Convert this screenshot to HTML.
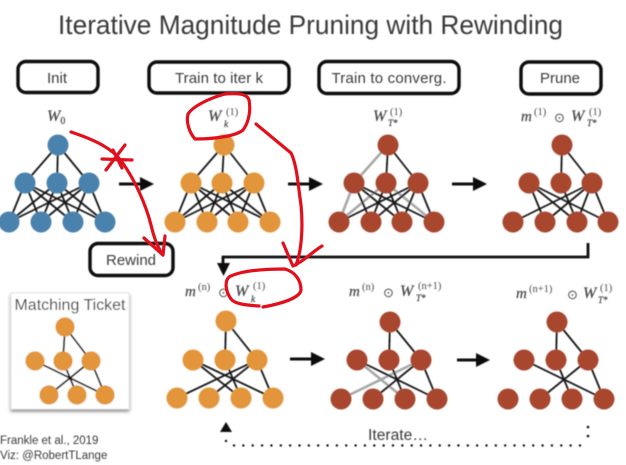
<!DOCTYPE html>
<html><head><meta charset="utf-8"><style>
html,body{margin:0;padding:0;background:#fff;width:626px;height:465px;overflow:hidden}
svg{display:block}
.s{font-family:"Liberation Sans",sans-serif;fill:#3a3a3a}
.m{font-family:"Liberation Serif",serif;font-style:italic;fill:#4a4a4a;stroke:#4a4a4a;stroke-width:.25}
.r{font-family:"Liberation Serif",serif;fill:#4a4a4a}
.b{fill:none;stroke:#0c0c0c;stroke-width:3.4}
.e{fill:none;stroke:#141414;stroke-width:1.8}
.g{fill:none;stroke:#a8a8a8;stroke-width:2.6}
.red{fill:none;stroke:#e20f1c;stroke-width:3.2;stroke-linecap:round;stroke-linejoin:round}
.blue circle{fill:#4a82ad}.or circle{fill:#e3953a}.br circle{fill:#a9472f}
</style></head><body>
<svg width="626" height="465" viewBox="0 0 626 465" xmlns="http://www.w3.org/2000/svg">
<defs><filter id="bl" x="-5%" y="-5%" width="110%" height="110%"><feGaussianBlur stdDeviation="0.45"/></filter>
<filter id="sh" x="-10%" y="-10%" width="120%" height="120%"><feDropShadow dx="0" dy="2" stdDeviation="1.5" flood-color="#666" flood-opacity=".8"/></filter></defs>
<g filter="url(#bl)">
<text class="s" x="58" y="34" font-size="27" textLength="505" lengthAdjust="spacingAndGlyphs">Iterative Magnitude Pruning with Rewinding</text>

<rect class="b" x="18" y="61.5" width="80" height="31" rx="8"/>
<rect class="b" x="149" y="62" width="140" height="31" rx="8"/>
<rect class="b" x="319" y="61.5" width="140" height="32" rx="8"/>
<rect class="b" x="521" y="62" width="80" height="32" rx="8"/>
<rect class="b" x="90" y="243.5" width="83" height="32" rx="8"/>
<text class="s" x="57" y="83" font-size="15" text-anchor="middle">Init</text>
<text class="s" x="219" y="83" font-size="15" text-anchor="middle" textLength="88">Train to iter k</text>
<text class="s" x="389" y="83" font-size="15" text-anchor="middle" textLength="115">Train to converg.</text>
<text class="s" x="560" y="83" font-size="15" text-anchor="middle">Prune</text>
<text class="s" x="131" y="265" font-size="15" text-anchor="middle">Rewind</text>

<!-- math labels -->
<text class="m" x="47" y="121" font-size="16">W<tspan class="r" font-style="normal" font-size="10" dy="3">0</tspan></text>
<text class="m" x="208" y="121" font-size="16">W</text><text class="r" x="226" y="115" font-size="10.5">(1)</text><text class="m" x="224" y="127" font-size="9.5">k</text>
<text class="m" x="373" y="121" font-size="16">W</text><text class="r" x="390" y="115" font-size="10.5">(1)</text><text class="m" x="388" y="126" font-size="9">T*</text>
<text class="m" x="521" y="121" font-size="15">m</text><text class="r" x="534" y="115" font-size="10.5">(1)</text><text class="r" x="554" y="122" font-size="13">⊙</text><text class="m" x="571" y="121" font-size="16">W</text><text class="r" x="589" y="115" font-size="10.5">(1)</text><text class="m" x="587" y="126" font-size="9">T*</text>
<text class="m" x="185" y="296" font-size="15">m</text><text class="r" x="198" y="290" font-size="10.5">(n)</text><text class="r" x="218" y="297" font-size="13">⊙</text><text class="m" x="235" y="296" font-size="16">W</text><text class="r" x="253" y="289" font-size="10.5">(1)</text><text class="m" x="251" y="302" font-size="9.5">k</text>
<text class="m" x="349" y="296" font-size="15">m</text><text class="r" x="362" y="290" font-size="10.5">(n)</text><text class="r" x="383" y="297" font-size="13">⊙</text><text class="m" x="400" y="296" font-size="16">W</text><text class="r" x="418" y="289" font-size="10.5">(n+1)</text><text class="m" x="416" y="301" font-size="9">T*</text>
<text class="m" x="516" y="298" font-size="15">m</text><text class="r" x="529" y="292" font-size="10.5">(n+1)</text><text class="r" x="567" y="299" font-size="13">⊙</text><text class="m" x="583" y="298" font-size="16">W</text><text class="r" x="600" y="291" font-size="10.5">(1)</text><text class="m" x="598" y="303" font-size="9">T*</text>

<!-- net 1 blue -->
<path class="e" d="M58 145L25 183M58 145L57 183M58 145L89 183M25 183L9 222M25 183L41 222M25 183L73 222M25 183L105 222M57 183L9 222M57 183L41 222M57 183L73 222M57 183L105 222M89 183L9 222M89 183L41 222M89 183L73 222M89 183L105 222"/>
<g class="blue"><circle cx="58" cy="145" r="10.5"/><circle cx="25" cy="183" r="10.5"/><circle cx="57" cy="183" r="10.5"/><circle cx="89" cy="183" r="10.5"/><circle cx="9" cy="222" r="10.5"/><circle cx="41" cy="222" r="10.5"/><circle cx="73" cy="222" r="10.5"/><circle cx="105" cy="222" r="10.5"/></g>

<!-- net 2 orange -->
<path class="e" d="M224 145L191 183M224 145L222 183M224 145L254 183M191 183L175 222M191 183L207 222M191 183L238 222M191 183L270 222M222 183L175 222M222 183L207 222M222 183L238 222M222 183L270 222M254 183L175 222M254 183L207 222M254 183L238 222M254 183L270 222"/>
<g class="or"><circle cx="224" cy="145" r="10.5"/><circle cx="191" cy="183" r="10.5"/><circle cx="222" cy="183" r="10.5"/><circle cx="254" cy="183" r="10.5"/><circle cx="175" cy="222" r="10.5"/><circle cx="207" cy="222" r="10.5"/><circle cx="238" cy="222" r="10.5"/><circle cx="270" cy="222" r="10.5"/></g>

<!-- net 3 brown -->
<path class="g" d="M388 145L354 183M354 183L339 222M339 222L386 183M386 183L434 222"/>
<path class="e" d="M388 145L386 183M388 145L418 183M354 183L371 222M354 183L402 222M354 183L434 222M386 183L371 222M386 183L402 222M418 183L339 222M418 183L371 222M418 183L402 222M418 183L434 222"/>
<g class="br"><circle cx="388" cy="145" r="10.5"/><circle cx="354" cy="183" r="10.5"/><circle cx="386" cy="183" r="10.5"/><circle cx="418" cy="183" r="10.5"/><circle cx="339" cy="222" r="10.5"/><circle cx="371" cy="222" r="10.5"/><circle cx="402" cy="222" r="10.5"/><circle cx="434" cy="222" r="10.5"/></g>

<!-- net 4 brown -->
<path class="e" d="M562 145L561 183M562 145L592 183M529 183L545 222M529 183L577 222M529 183L608 222M561 183L577 222M592 183L513 222M592 183L545 222M592 183L577 222M592 183L608 222"/>
<g class="br"><circle cx="562" cy="145" r="10.5"/><circle cx="529" cy="183" r="10.5"/><circle cx="561" cy="183" r="10.5"/><circle cx="592" cy="183" r="10.5"/><circle cx="513" cy="222" r="10.5"/><circle cx="545" cy="222" r="10.5"/><circle cx="577" cy="222" r="10.5"/><circle cx="608" cy="222" r="10.5"/></g>

<!-- lower orange -->
<path class="e" d="M226 321L225 360M226 321L257 360M193 360L241 398M193 360L273 398M225 360L241 398M257 360L177 398M257 360L209 398M257 360L273 398"/>
<g class="or"><circle cx="226" cy="321" r="10.5"/><circle cx="193" cy="360" r="10.5"/><circle cx="225" cy="360" r="10.5"/><circle cx="257" cy="360" r="10.5"/><circle cx="177" cy="398" r="10.5"/><circle cx="209" cy="398" r="10.5"/><circle cx="241" cy="398" r="10.5"/><circle cx="273" cy="398" r="10.5"/></g>

<!-- lower brown 2 -->
<path class="g" d="M357 360L405 399M421 360L341 399"/>
<path class="e" d="M390 322L389 360M390 322L421 360M357 360L437 399M389 360L405 399M421 360L373 399M421 360L437 399"/>
<g class="br"><circle cx="390" cy="322" r="10.5"/><circle cx="357" cy="360" r="10.5"/><circle cx="389" cy="360" r="10.5"/><circle cx="421" cy="360" r="10.5"/><circle cx="341" cy="399" r="10.5"/><circle cx="373" cy="399" r="10.5"/><circle cx="405" cy="399" r="10.5"/><circle cx="437" cy="399" r="10.5"/></g>

<!-- lower brown 3 -->
<path class="e" d="M557 322L556 360M557 322L588 360M524 360L604 399M556 360L572 399M588 360L540 399M588 360L604 399"/>
<g class="br"><circle cx="557" cy="322" r="10.5"/><circle cx="524" cy="360" r="10.5"/><circle cx="556" cy="360" r="10.5"/><circle cx="588" cy="360" r="10.5"/><circle cx="508" cy="399" r="10.5"/><circle cx="540" cy="399" r="10.5"/><circle cx="572" cy="399" r="10.5"/><circle cx="604" cy="399" r="10.5"/></g>

<!-- arrows -->
<path d="M119 184H142" stroke="#111" stroke-width="3"/><path d="M140 177L154 184L140 191Z" fill="#111"/>
<path d="M288 184H311" stroke="#111" stroke-width="3"/><path d="M309 177L323 184L309 191Z" fill="#111"/>
<path d="M452 184H475" stroke="#111" stroke-width="3"/><path d="M473 177L487 184L473 191Z" fill="#111"/>
<path d="M290 359H313" stroke="#111" stroke-width="3"/><path d="M311 352L325 359L311 366Z" fill="#111"/>
<path d="M457 360H480" stroke="#111" stroke-width="3"/><path d="M476 353L490 360L476 367Z" fill="#111"/>

<!-- long connector -->
<path d="M588 243V257H223V266" fill="none" stroke="#111" stroke-width="2.8"/>
<path d="M217 263H230L223.5 276Z" fill="#111"/>

<!-- matching ticket -->
<rect x="11" y="293" width="118" height="116" fill="#fff" stroke="#e4e4e4" filter="url(#sh)"/>
<text class="s" x="70" y="310" font-size="15.5" text-anchor="middle" textLength="111" lengthAdjust="spacingAndGlyphs">Matching Ticket</text>
<path class="e" d="M65 327L63 361M65 327L91 361M35 361L105 395M63 361L77 395M91 361L49 395M91 361L105 395"/>
<g class="or"><circle cx="65" cy="327" r="9.6"/><circle cx="35" cy="361" r="9.6"/><circle cx="63" cy="361" r="9.6"/><circle cx="91" cy="361" r="9.6"/><circle cx="49" cy="395" r="9.6"/><circle cx="77" cy="395" r="9.6"/><circle cx="105" cy="395" r="9.6"/></g>

<text class="s" x="0" y="444" font-size="11.5">Frankle et al., 2019</text>
<text class="s" x="0" y="459" font-size="11.5">Viz: @RobertTLange</text>

<!-- iterate -->
<path d="M220 432L226 422L232 432Z" fill="#0c0c0c"/>
<path d="M226 441L233 445.5H588" fill="none" stroke="#111" stroke-width="2.4" stroke-linecap="round" stroke-dasharray="0 9.35"/>
<path d="M588 427V437" fill="none" stroke="#111" stroke-width="2.6" stroke-linecap="round" stroke-dasharray="0 9"/>
<text class="s" x="368" y="440" font-size="15.5" textLength="60" lengthAdjust="spacingAndGlyphs">Iterate…</text>
</g>

<!-- red annotations -->
<path class="red" d="M71 132C95 140 112 148 122 162C135 180 146 205 151 225C154 238 158 248 163 255"/>
<path class="red" d="M144 238L163 255L165 236"/>
<path class="red" d="M102 159L132 160M106 170L125 145M113 150L122 168"/>
<path class="red" d="M225 94C235 93 247 93 249 100C251 110 249 122 243 130C236 136 215 139 195 139C189 132 186 122 188 114C193 106 210 98 225 94Z"/>
<path class="red" d="M256 124C268 134 280 144 291 153C297 165 298 185 301 205C303 225 302 250 296 265"/>
<path class="red" d="M283 243C287 252 290 260 293 266C303 262 312 252 322 246"/>
<path class="red" d="M259 306C245 305 235 304 231 299C226 292 224 282 229 277C240 271 262 269 285 269C295 272 301 280 301 290C300 297 285 303 263 307"/>
</svg>
</body></html>
